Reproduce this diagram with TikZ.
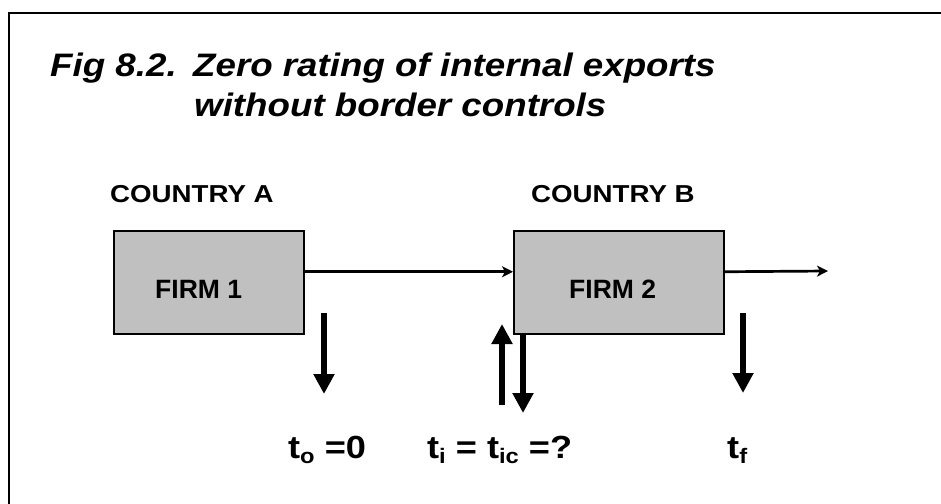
\documentclass[tikz,border=0pt]{standalone}
\usepackage{fontspec}
\setmainfont{Liberation Sans}
\newfontfamily\widefont{Liberation Sans}[FakeStretch=1.13]
\usetikzlibrary{arrows.meta}
\definecolor{boxgray}{HTML}{C0C0C0}
\newcommand\taxsub[1]{\raisebox{-5pt}{\fontsize{21}{21}\selectfont #1}}
\begin{document}
\begin{tikzpicture}[x=1pt,y=-1pt,
 box/.style={draw=black,fill=boxgray,line width=1.5pt,inner sep=0pt,anchor=north west},
 ttl/.style={font=\widefont\fontsize{32.5}{39}\selectfont\bfseries\itshape,inner sep=0pt,anchor=base west},
 country/.style={font=\widefont\fontsize{24.5}{28}\selectfont\bfseries,inner sep=0pt,anchor=base west},
 firm/.style={font=\fontsize{26.5}{30}\selectfont\bfseries,inner sep=0pt,anchor=base west},
 taxlbl/.style={font=\widefont\fontsize{32}{38}\selectfont\bfseries,inner sep=0pt,anchor=base west},
 flow/.style={line width=2.7pt,-{Stealth[length=11pt,width=11pt,inset=3pt]}},
 tax/.style={line width=6pt,-{Triangle[length=20pt,width=20pt]}},
 frame/.style={line width=2pt,draw=black}]
\useasboundingbox (0,0) rectangle (941,503);
\clip (0,0) rectangle (941,503);
\draw[frame] (9,520) -- (9,13) -- (960,13);
\node[ttl] (fig) at (50,76) {Fig 8.2.};
\node[ttl] (t1) at (193,76) {Zero rating of internal exports};
\node[ttl] (t2) at (194,116) {without border controls};
\node[country] (ca) at (110,202) {COUNTRY A};
\node[country] (cb) at (531,202) {COUNTRY B};
\node[box,minimum width=190pt,minimum height=103pt] (f1) at (113,230) {};
\node[box,minimum width=210pt,minimum height=103pt] (f2) at (513,230) {};
\node[firm] (f1l) at (155,298) {FIRM 1};
\node[firm] (f2l) at (569,298) {FIRM 2};
\coordinate (out) at (828,271);
\draw[flow] ([yshift=10.5pt]f1.east) -- ([yshift=10.5pt]f2.west);
\draw[flow] ([yshift=10.5pt]f2.east) -- (out);
\coordinate (d1s) at (324,313);
\coordinate (d1e) at (324,394);
\coordinate (us) at (502,405);
\coordinate (ue) at (502,324);
\coordinate (d2s) at ([xshift=10pt]f2.south west);
\coordinate (d2e) at (523,413);
\coordinate (d3s) at (743,313);
\coordinate (d3e) at (743,393);
\draw[tax] (d1s) -- (d1e);
\draw[tax] (us) -- (ue);
\draw[tax] (d2s) -- (d2e);
\draw[tax] (d3s) -- (d3e);
\node[taxlbl] (to) at (288,458) {t\taxsub{o} =0};
\node[taxlbl] (ti) at (427,458) {t\taxsub{i} = t\taxsub{ic} =?};
\node[taxlbl] (tf) at (727,458) {t\taxsub{f}};
\end{tikzpicture}
\end{document}
